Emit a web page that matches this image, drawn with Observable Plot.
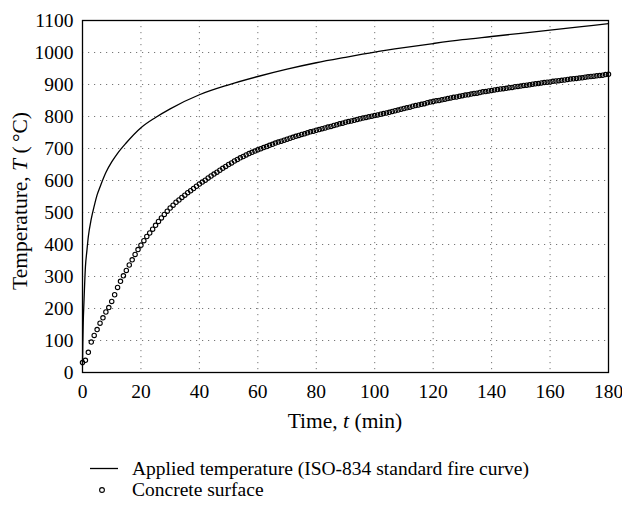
<!DOCTYPE html>
<html>
<head>
<meta charset="utf-8">
<script src="https://cdn.jsdelivr.net/npm/d3@7"></script>
<script src="https://cdn.jsdelivr.net/npm/@observablehq/plot@0.6"></script>
<style>
  html, body { margin: 0; padding: 0; background: #fff; }
  body { width: 622px; height: 506px; overflow: hidden; font-family: "Liberation Serif", serif; color: #000; }
  #chart svg text, #chart svg tspan { font-family: "Liberation Serif", serif !important; }
  #chart svg g[aria-label="x-axis tick label"] text, #chart svg g[aria-label="y-axis tick label"] text { font-size: 19.5px; }
  #legend { padding-top: 18px; font-size: 19.5px; line-height: 21px; }
  .row { display: flex; align-items: center; height: 21px; }
  .sym { width: 42px; margin-left: 90px; height: 21px; }
</style>
</head>
<body>
<div id="chart"></div>
<div id="legend"></div>
<script>
// ---- data ----
const xTicks = [0, 20, 40, 60, 80, 100, 120, 140, 160, 180];
const yTicks = [0, 100, 200, 300, 400, 500, 600, 700, 800, 900, 1000, 1100];

// Applied temperature (ISO-834 standard fire curve)
const isoTime = [0, 0.1, 0.25, 0.5, 1, 1.5, 2, 3, 4, 5, 6, 8, 10, 12, 15, 20, 25, 30, 40, 50, 60, 70, 80, 90, 100, 110, 120, 130, 140, 150, 160, 170, 180];
const isoTemp = [20, 90, 155, 220, 330, 380, 425, 480, 520, 555, 580, 625, 658, 685, 718, 765, 797, 824, 868, 899, 925, 948, 968, 985, 1001, 1015, 1028, 1040, 1050, 1060, 1070, 1080, 1090];

// Concrete surface, one marker per minute (0 ... 180 min)
const surfTemp = [
  31, 38, 63, 95, 116, 134, 154, 171, 189, 203,
  222, 243, 266, 285, 302, 319, 336, 352, 369, 384,
  398, 412, 425, 436, 448, 460, 472, 483, 494, 504,
  514, 523, 532, 539, 547, 554, 562, 568, 575, 582,
  589, 595, 601, 608, 614, 620, 626, 632, 638, 644,
  650, 655, 661, 666, 671, 675, 680, 684, 688, 692,
  696, 699, 703, 706, 710, 713, 717, 720, 723, 726,
  729, 732, 735, 738, 741, 744, 746, 749, 752, 754,
  757, 759, 762, 764, 767, 769, 772, 774, 777, 779,
  782, 784, 786, 788, 791, 793, 795, 797, 799, 801,
  803, 805, 807, 809, 811, 813, 816, 818, 820, 823,
  825, 827, 829, 832, 834, 836, 838, 840, 843, 845,
  847, 849, 850, 852, 854, 856, 858, 860, 861, 863,
  865, 867, 868, 870, 872, 873, 875, 877, 878, 880,
  881, 883, 884, 886, 887, 888, 890, 891, 893, 894,
  895, 897, 898, 899, 901, 902, 903, 905, 906, 907,
  908, 910, 911, 912, 913, 914, 916, 917, 918, 919,
  920, 921, 923, 924, 925, 926, 927, 928, 929, 931,
  932
];
const surfTime = surfTemp.map((_, i) => i);

const legendLabels = ["Applied temperature (ISO-834 standard fire curve)", "Concrete surface"];

// ---- tables ----
const iso = isoTime.map((t, i) => ({t, T: isoTemp[i]}));
const surf = surfTime.map((t, i) => ({t, T: surfTemp[i]}));

const W = 622, H = 440;
const plot = Plot.plot({
  width: W,
  height: H,
  marginTop: 20,
  marginRight: 14,
  marginBottom: 68,
  marginLeft: 82,
  style: {fontFamily: "'Liberation Serif', serif", fontSize: "19.5px", color: "#000", background: "#fff"},
  x: {domain: [0, 180], ticks: xTicks, tickFormat: d => String(d), tickSize: 0, tickPadding: 12, label: null},
  y: {domain: [0, 1100], ticks: yTicks, tickFormat: d => String(d), tickSize: 0, tickPadding: 9, label: null},
  marks: [
    Plot.gridX(xTicks.slice(1, -1), {stroke: "#777", strokeOpacity: 1, strokeWidth: 1, strokeDasharray: "1.2,4.8"}),
    Plot.gridY(yTicks.slice(1, -1), {stroke: "#777", strokeOpacity: 1, strokeWidth: 1, strokeDasharray: "1.2,4.8"}),
    Plot.line(iso, {x: "t", y: "T", stroke: "#000", strokeWidth: 1.3, curve: "monotone-x"}),
    Plot.dot(surf, {x: "t", y: "T", r: 2.2, stroke: "#000", strokeWidth: 1.1, fill: "none"}),
    Plot.frame({stroke: "#000", strokeWidth: 1.3})
  ]
});

const xs = plot.scale("x"), ys = plot.scale("y");
const svg = d3.select(plot);
const xMid = (xs.range[0] + xs.range[1]) / 2;
const yMid = (ys.range[0] + ys.range[1]) / 2;

const xl = svg.append("text")
  .attr("x", xMid).attr("y", ys.range[0] + 56)
  .attr("text-anchor", "middle")
  .style("font-size", "21.5px").attr("fill", "#000");
xl.append("tspan").text("Time, ");
xl.append("tspan").attr("font-style", "italic").text("t");
xl.append("tspan").text(" (min)");

const yl = svg.append("text")
  .attr("transform", `translate(19,${yMid + 5}) rotate(-90)`)
  .attr("text-anchor", "middle").attr("dy", "0.35em")
  .style("font-size", "21.5px").attr("fill", "#000");
yl.append("tspan").text("Temperature, ");
yl.append("tspan").attr("font-style", "italic").text("T");
yl.append("tspan").text(" (\u2009°C)");

document.getElementById("chart").appendChild(plot);

// legend
const leg = d3.select("#legend");
const r1 = leg.append("div").attr("class", "row");
const s1 = r1.append("svg").attr("class", "sym").attr("width", 42).attr("height", 21);
s1.append("line").attr("x1", 0).attr("x2", 28).attr("y1", 10.5).attr("y2", 10.5).attr("stroke", "#000").attr("stroke-width", 1.3);
r1.append("span").text(legendLabels[0]);
const r2 = leg.append("div").attr("class", "row");
const s2 = r2.append("svg").attr("class", "sym").attr("width", 42).attr("height", 21);
s2.append("circle").attr("cx", 12).attr("cy", 11).attr("r", 2.4).attr("fill", "none").attr("stroke", "#000").attr("stroke-width", 1.1);
r2.append("span").text(legendLabels[1]);
</script>
</body>
</html>
